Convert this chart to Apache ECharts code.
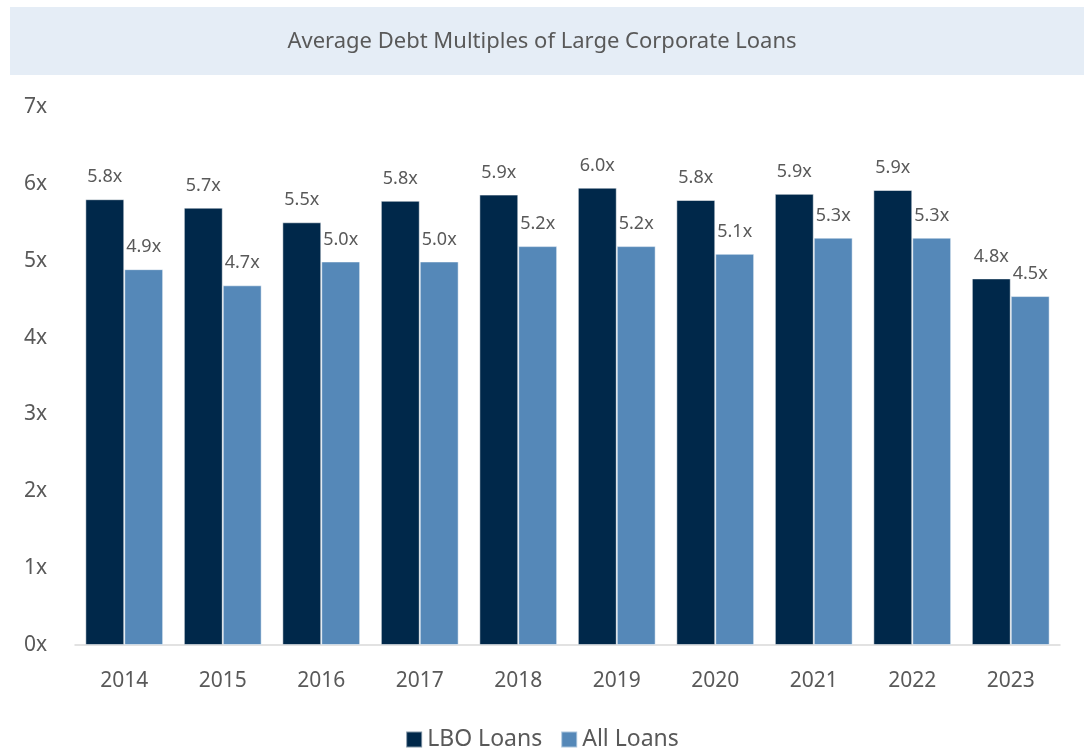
<!DOCTYPE html>
<html>
<head>
<meta charset="utf-8">
<script src="https://cdn.jsdelivr.net/npm/echarts@6/dist/echarts.min.js"></script>
<style>html,body{margin:0;padding:0;background:#fff;}#c{width:1084px;height:749px;}</style>
</head>
<body>
<div id="c"></div>
<script>
const titleText = 'Average Debt Multiples of Large Corporate Loans';
const years = ['2014','2015','2016','2017','2018','2019','2020','2021','2022','2023'];
const lboLoans = [5.8, 5.69, 5.5, 5.78, 5.86, 5.95, 5.79, 5.87, 5.92, 4.77];
const allLoans = [4.89, 4.68, 4.99, 4.99, 5.19, 5.19, 5.09, 5.3, 5.3, 4.54];
const seriesNames = ['LBO Loans', 'All Loans'];
const font = '"Noto Sans", sans-serif';

const chart = echarts.init(document.getElementById('c'), null, {renderer: 'canvas'});
const labelCfg = {
  show: true, position: 'top', distance: 13, color: '#595959', fontSize: 18, fontFamily: font,
  formatter: p => p.value.toFixed(1) + 'x'
};
chart.setOption({
  animation: false,
  graphic: [{
    type: 'rect', left: 10, top: 7, shape: {width: 1074, height: 68},
    style: {fill: '#e5edf6'}, silent: true, z: -1
  }],
  title: {
    text: titleText, left: 'center', top: 26,
    textStyle: {color: '#595959', fontSize: 22, fontWeight: 'normal', fontFamily: font}
  },
  legend: {
    data: seriesNames, top: 723, left: 'center', itemWidth: 16, itemHeight: 16, itemGap: 18,
    icon: 'rect',
    textStyle: {color: '#595959', fontSize: 23, fontFamily: font}
  },
  grid: {left: 75, right: 24, top: 107, bottom: 104},
  xAxis: {
    type: 'category', data: years,
    axisLine: {lineStyle: {color: '#d9d9d9', width: 1.5}},
    axisTick: {show: false},
    axisLabel: {color: '#595959', fontSize: 21, fontFamily: font, margin: 26}
  },
  yAxis: {
    type: 'value', min: 0, max: 7, interval: 1,
    splitLine: {show: false},
    axisLabel: {color: '#595959', fontSize: 21, fontFamily: font, margin: 28, formatter: v => v + 'x'}
  },
  series: [
    {name: seriesNames[0], type: 'bar', data: lboLoans, barGap: '0%', barCategoryGap: '21%',
     itemStyle: {color: '#00284a', borderColor: 'rgba(255,255,255,0.5)', borderWidth: 1}, label: labelCfg},
    {name: seriesNames[1], type: 'bar', data: allLoans, barGap: '0%', barCategoryGap: '21%',
     itemStyle: {color: '#5588b8', borderColor: 'rgba(255,255,255,0.5)', borderWidth: 1}, label: labelCfg}
  ]
});
</script>
</body>
</html>
